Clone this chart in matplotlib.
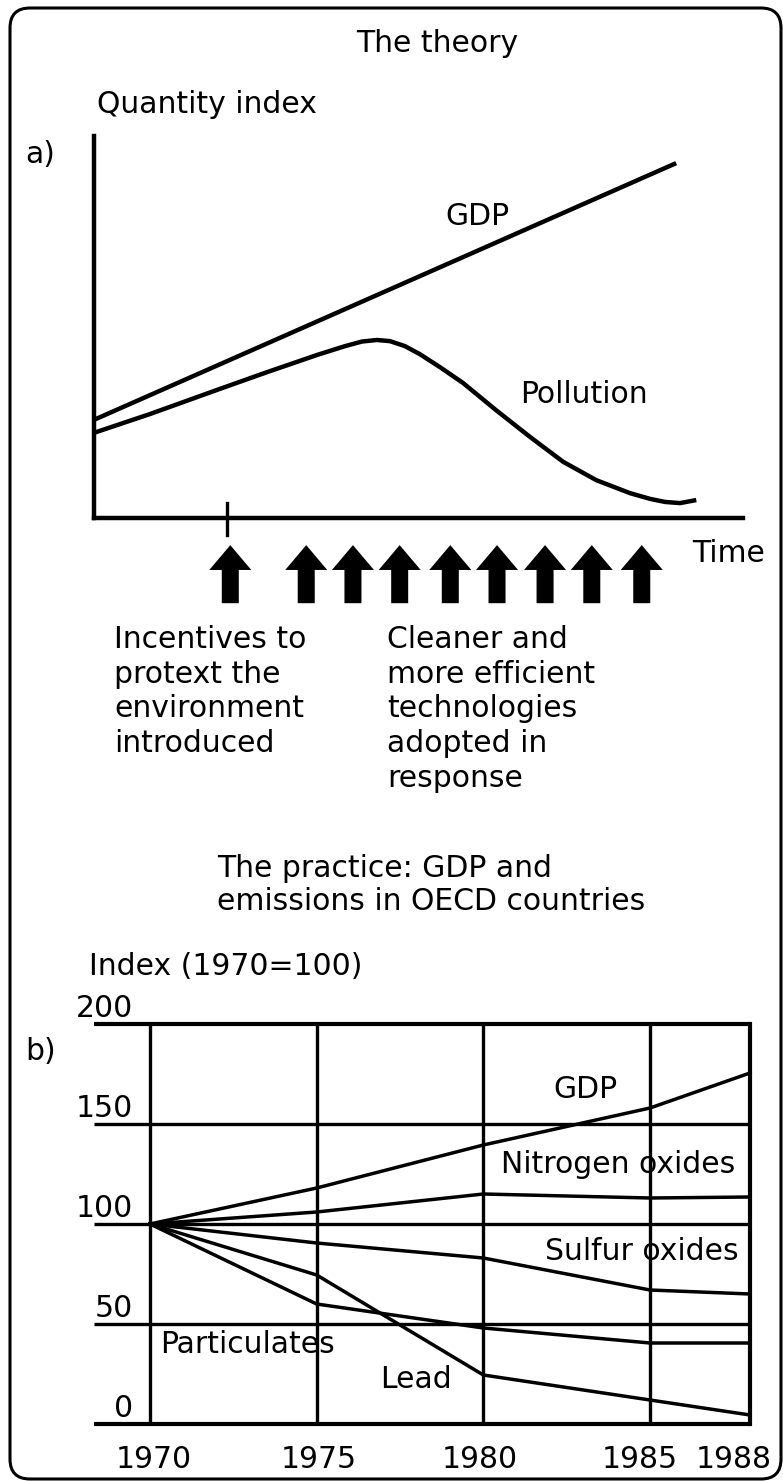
import matplotlib
matplotlib.use('Agg')
import matplotlib.pyplot as plt
from matplotlib.patches import FancyArrow, FancyBboxPatch
from matplotlib.transforms import IdentityTransform

plt.rcParams['font.family'] = ['DejaVu Sans']
FS = 21.5
W, H = 783, 1481

# --- a) the theory (arbitrary time / quantity units, 0..100) ---
gdp_t = [0, 89.7]
gdp_q = [25.7, 92.9]

poll_t = [0, 8.6, 19.4, 26.7, 34.4, 38.7, 41.3, 43.6, 45.6, 47.9, 50.2,
          53.3, 56.9, 61.9, 67.2, 72.3, 77.4, 82.6, 85.7, 88.0, 90.3, 92.8]
poll_q = [22.3, 27.2, 33.8, 38.2, 42.7, 45.0, 46.2, 46.6, 46.3, 45.0, 42.9,
          39.5, 35.3, 28.3, 21.2, 14.7, 9.9, 6.5, 5.0, 4.2, 3.9, 4.7]

incentive_t = 20.5
arrow_t = [21.0, 32.7, 39.9, 47.1, 54.9, 62.1, 69.5, 76.7, 84.4]

left_note = ["Incentives to", "protext the", "environment", "introduced"]
right_note = ["Cleaner and", "more efficient", "technologies", "adopted in", "response"]

# --- b) the practice: index 1970=100 ---
years = [1970, 1975, 1980, 1985, 1988]
gdp = [100, 118, 139.5, 158, 175.5]
nox = [100, 106, 115, 113, 113.5]
sox = [100, 90.5, 83, 67, 65]
particulates = [100, 60, 48, 40.5, 40.5]
lead = [100, 74.5, 24.5, 12, 4.5]
y_levels = [0, 50, 100, 150, 200]
year_labels = ["1970", "1975", "1980", "1985", "1988"]
year_label_pos = [1970.1, 1975.05, 1979.9, 1984.7, 1987.5]


def fx(px):
    return px / W


def fy(py):
    return 1 - py / H


fig = plt.figure(figsize=(W / 100, H / 100), dpi=100)
fig.patch.set_facecolor('white')

# rounded frame around everything
frame = FancyBboxPatch((10, 2), 771, 1471, boxstyle="round,pad=0,rounding_size=20",
                       transform=IdentityTransform(), fill=False, lw=2.2, ec='black')
fig.add_artist(frame)

# ---------------- top panel ----------------
ax = fig.add_axes([fx(94), fy(518), fx(743) - fx(94), fy(136) - fy(518)])
ax.set_xlim(0, 100)
ax.set_ylim(0, 100)
for side in ['top', 'right']:
    ax.spines[side].set_visible(False)
for side in ['left', 'bottom']:
    ax.spines[side].set_linewidth(3.2)
ax.set_xticks([])
ax.set_yticks([])
ax.patch.set_alpha(0)

ax.plot(gdp_t, gdp_q, color='black', lw=3.2, solid_capstyle='butt')
ax.plot(poll_t, poll_q, color='black', lw=3.2, solid_capstyle='butt',
        solid_joinstyle='round')
ax.plot([incentive_t, incentive_t], [3.9, -4.5], color='black', lw=2.4, clip_on=False)

for t in arrow_t:
    ax.add_patch(FancyArrow(t, -22.3, 0, 15.2, width=2.62, head_width=6.47,
                            head_length=6.5, length_includes_head=True,
                            color='black', lw=0, clip_on=False))

ax.text(54.1, 76.7, "GDP", fontsize=FS, va='baseline')
ax.text(65.6, 30.1, "Pollution", fontsize=FS, va='baseline')
ax.text(92.1, -11.5, "Time", fontsize=FS, va='baseline', clip_on=False)

fig.text(fx(437), fy(52), "The theory", fontsize=FS, ha='center', va='baseline')
fig.text(fx(97), fy(113), "Quantity index", fontsize=FS, va='baseline')
fig.text(fx(25), fy(163), "a)", fontsize=FS, va='baseline')

for i, line in enumerate(left_note):
    fig.text(fx(114), fy(648 + 34.7 * i), line, fontsize=FS, va='baseline')
for i, line in enumerate(right_note):
    fig.text(fx(387), fy(648 + 34.7 * i), line, fontsize=FS, va='baseline')

fig.text(fx(217), fy(877), "The practice: GDP and", fontsize=FS, va='baseline')
fig.text(fx(217), fy(910), "emissions in OECD countries", fontsize=FS, va='baseline')
fig.text(fx(89), fy(975), "Index (1970=100)", fontsize=FS, va='baseline')
fig.text(fx(25), fy(1060), "b)", fontsize=FS, va='baseline')

# ---------------- bottom panel ----------------
bx = fig.add_axes([fx(94), fy(1424), fx(750) - fx(94), fy(1024) - fy(1424)])
x_left = 1968.32
bx.set_xlim(x_left, 1988)
bx.set_ylim(0, 200)
bx.axis('off')

for v in y_levels:
    lw = 3.0 if v in (0, 200) else 2.4
    bx.plot([x_left, 1988], [v, v], color='black', lw=lw, clip_on=False, zorder=3,
            solid_capstyle='butt')
    bx.text(1969.49, v + 3.5, str(v), fontsize=FS, ha='right', va='baseline', zorder=1)
for yr in years:
    lw = 3.0 if yr == 1988 else 2.4
    bx.plot([yr, yr], [0, 200], color='black', lw=lw, clip_on=False, zorder=3,
            solid_capstyle='projecting' if yr == 1988 else 'butt')

for series in [gdp, nox, sox, particulates, lead]:
    bx.plot(years, series, color='black', lw=2.5, clip_on=False, zorder=3)

for pos, lab in zip(year_label_pos, year_labels):
    bx.text(pos, -22, lab, fontsize=FS, ha='center', va='baseline', clip_on=False)

bx.text(1982.1, 163, "GDP", fontsize=FS, va='baseline', zorder=1)
bx.text(1980.54, 125.5, "Nitrogen oxides", fontsize=FS, va='baseline', zorder=1)
bx.text(1981.86, 82, "Sulfur oxides", fontsize=FS, va='baseline', zorder=1)
bx.text(1970.3, 35.5, "Particulates", fontsize=FS, va='baseline', zorder=1)
bx.text(1976.91, 18, "Lead", fontsize=FS, va='baseline', zorder=1)

fig.savefig('out.png', dpi=100)
